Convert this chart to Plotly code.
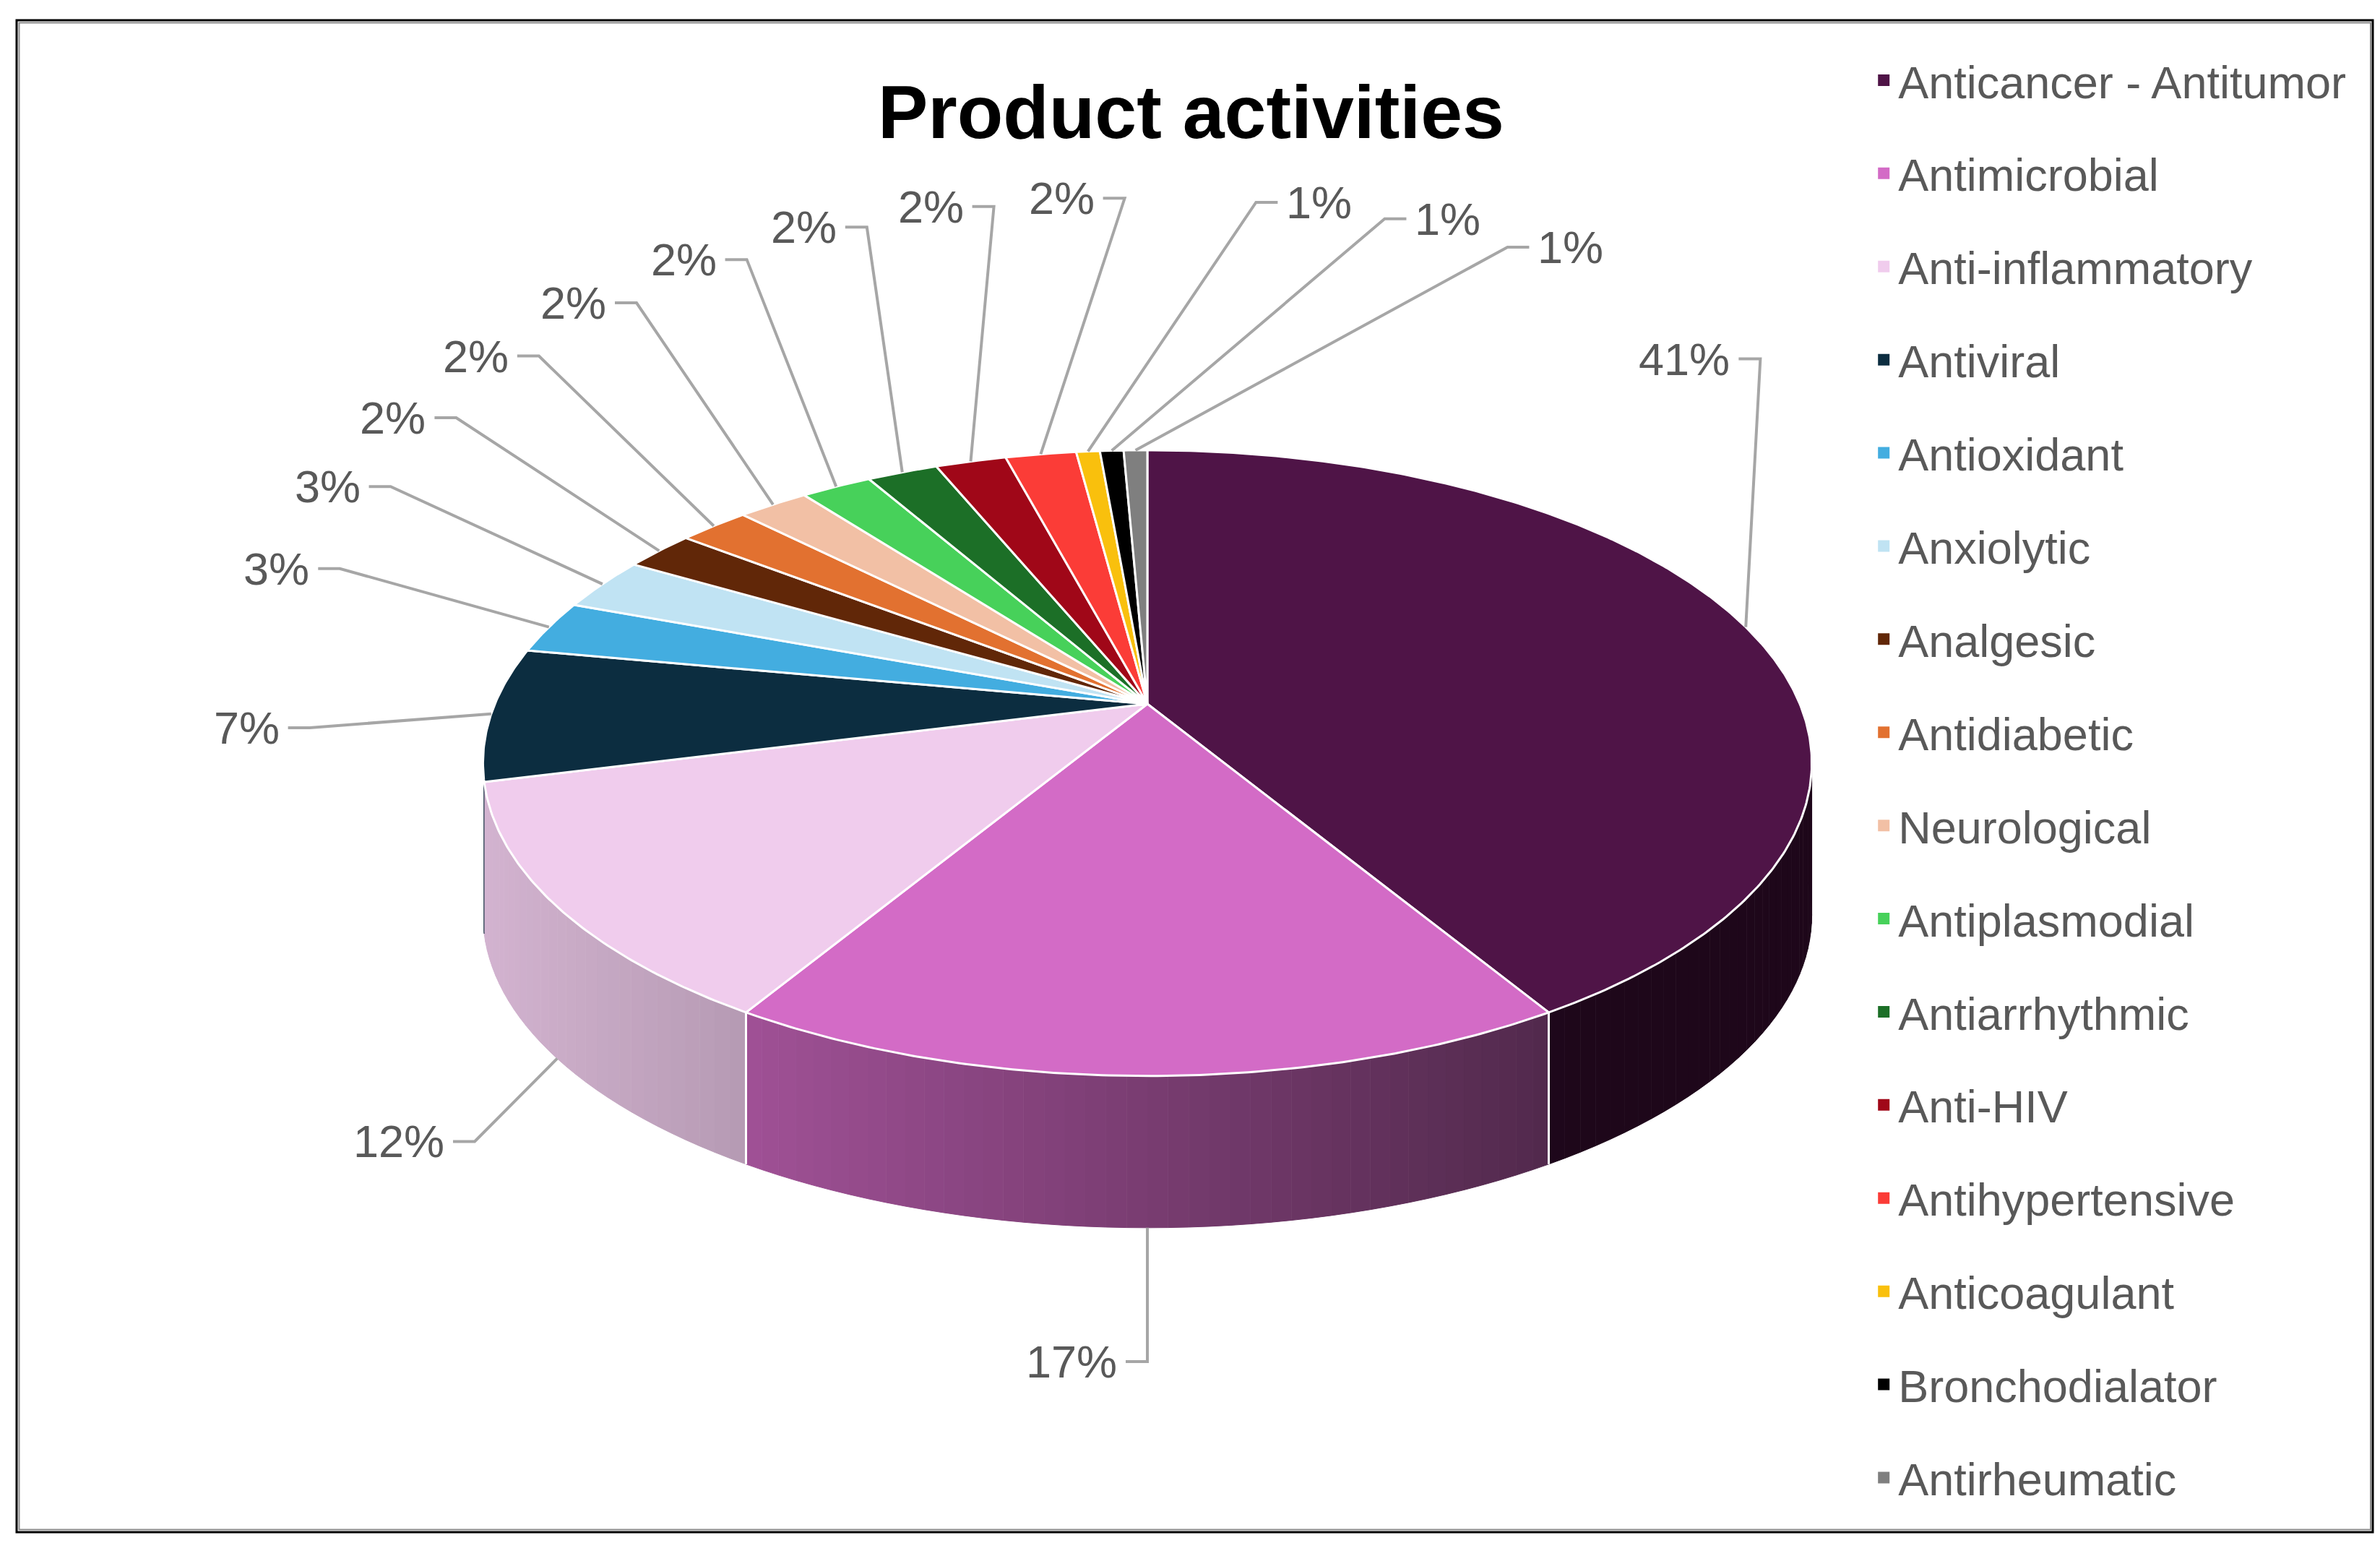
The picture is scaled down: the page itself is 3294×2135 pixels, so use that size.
import numpy as np
import plotly.graph_objects as go

# Data: number of products per activity (labels show the rounded %)
categories = ['Anticancer - Antitumor', 'Antimicrobial', 'Anti-inflammatory', 'Antiviral',
              'Antioxidant', 'Anxiolytic', 'Analgesic', 'Antidiabetic', 'Neurological',
              'Antiplasmodial', 'Antiarrhythmic', 'Anti-HIV', 'Antihypertensive',
              'Anticoagulant', 'Bronchodialator', 'Antirheumatic']
counts = [60, 25, 18, 10, 4, 4, 3, 3, 3, 3, 3, 3, 3, 1, 1, 1]
colors = ['#4f1447', '#d36bc6', '#f0cced', '#0c2d40', '#43ade0', '#c0e3f3', '#612708',
          '#e27130', '#f2c0a5', '#47d15a', '#1c6f27', '#a00718', '#fb3c37', '#f9c00d',
          '#000000', '#7f7f7f']

W, H = 3294, 2135

# 3D pie geometry (pixels): apex, radius, perspective and thickness
CX, CY = 1580, 966
R, K, A = 903, 0.189, 417.5
DEPTH = 210
SIDE_FROM, SIDE_TO = 95, 256   # part of the rim whose side is drawn
LX, LY = 1160, 700             # label ellipse
TEXT_GREY = '#595959'
LEADER = '#a6a6a6'
FONT = 'Liberation Sans'


def project(theta_deg, rho=1.0):
    t = np.radians(theta_deg)
    u, v = rho * np.sin(t), rho * np.cos(t)
    s = 1 + K * v
    return CX + R * u / s, CY - A * v / s


def shade(hex_color, f):
    h = hex_color.lstrip('#')
    r, g, b = (int(h[i:i + 2], 16) for i in (0, 2, 4))
    return 'rgb({},{},{})'.format(int(r * f), int(g * f), int(b * f))


total = sum(counts)
cum = np.cumsum(counts)
ends = 360.0 * cum / total
starts = ends - 360.0 * np.array(counts) / total
mids = (starts + ends) / 2

fig = go.Figure()

# side of the cake (front only, shaded lighter to the left)
for s, e, c in zip(starts, ends, colors):
    a0, a1 = max(s, SIDE_FROM), min(e, SIDE_TO)
    if a1 <= a0:
        continue
    n = max(1, int(np.ceil((a1 - a0) / 1.5)))
    edges = np.linspace(a0, a1, n + 1)
    for b0, b1 in zip(edges[:-1], edges[1:]):
        th = np.linspace(b0, b1, 4)
        xs, ys = project(th)
        f = float(np.clip(0.88 - (xs.mean() - 660) * 0.000333, 0.38, 0.9))
        col = shade(c, f)
        fig.add_trace(go.Scatter(
            x=list(xs) + list(xs[::-1]), y=list(ys) + list(ys[::-1] + DEPTH),
            mode='lines', fill='toself', fillcolor=col, line=dict(color=col, width=1),
            hoverinfo='skip', showlegend=False))

# white seams between slices on the side
for b in ends:
    if 100 < b < SIDE_TO - 1:
        bx, by = project(b)
        fig.add_trace(go.Scatter(x=[bx, bx], y=[by, by + DEPTH], mode='lines',
                                 line=dict(color='white', width=3),
                                 hoverinfo='skip', showlegend=False))

# top faces
for cat, s, e, c in zip(categories, starts, ends, colors):
    th = np.linspace(s, e, max(3, int((e - s) / 0.5) + 2))
    xs, ys = project(th)
    fig.add_trace(go.Scatter(
        x=[CX] + list(xs) + [CX], y=[CY] + list(ys) + [CY],
        mode='lines', fill='toself', fillcolor=c, line=dict(color='white', width=3),
        name=cat, hoverinfo='name', showlegend=False))

# label angles: keep clear of the legend, then spread the small ones
lab = mids.copy()
lab[(lab > 47) & (lab <= 90)] = 47
for i in range(1, len(lab)):
    lab[i] = max(lab[i], lab[i - 1] + 9)

annotations = []
for v, m, a in zip(counts, mids, lab):
    sx, sy = project(m)
    if 100 < m < 260:
        sy += DEPTH
    t = np.radians(a)
    ex = CX + LX * np.sin(t)
    ey = CY - LY * np.cos(t) + DEPTH * float(np.clip(-1.5 * np.cos(t), 0, 1))
    # text goes outward, except close to the legend where it turns back
    d = 1 if 0.1 < np.sin(t) < 0.6 else -1
    fig.add_trace(go.Scatter(x=[sx, ex, ex + d * 30], y=[sy, ey, ey], mode='lines',
                             line=dict(color=LEADER, width=4),
                             hoverinfo='skip', showlegend=False))
    annotations.append(dict(
        x=ex + d * 40, y=ey, xref='x', yref='y', showarrow=False,
        text='{}%'.format(round(100 * v / total)),
        xanchor='left' if d > 0 else 'right', yanchor='middle',
        font=dict(family=FONT, size=63, color=TEXT_GREY)))

# legend entries
for cat, c in zip(categories, colors):
    fig.add_trace(go.Scatter(x=[None], y=[None], mode='markers', name=cat, legendgroup=cat,
                             marker=dict(symbol='square', size=16, color=c)))

fig.update_layout(
    width=W, height=H,
    margin=dict(l=0, r=0, t=0, b=0),
    paper_bgcolor='white', plot_bgcolor='white',
    title=dict(text='<b>Product activities</b>', x=0.498, y=1 - 147 / H,
               xanchor='center', yanchor='middle',
               font=dict(family=FONT, size=104, color='black')),
    xaxis=dict(range=[0, W], visible=False, fixedrange=True),
    yaxis=dict(range=[H, 0], visible=False, fixedrange=True),
    legend=dict(x=0.783, y=0.974, xanchor='left', yanchor='top',
                font=dict(family=FONT, size=63, color=TEXT_GREY),
                tracegroupgap=44, itemsizing='trace', bgcolor='rgba(0,0,0,0)'),
    annotations=annotations,
    shapes=[
        dict(type='rect', xref='x', yref='y', x0=15, y0=20, x1=3276, y1=2112,
             line=dict(color='black', width=3)),
        dict(type='rect', xref='x', yref='y', x0=18.5, y0=23.5, x1=3273, y1=2108.5,
             line=dict(color='#8c8c8c', width=2)),
    ],
)

fig.write_html('out.html')
